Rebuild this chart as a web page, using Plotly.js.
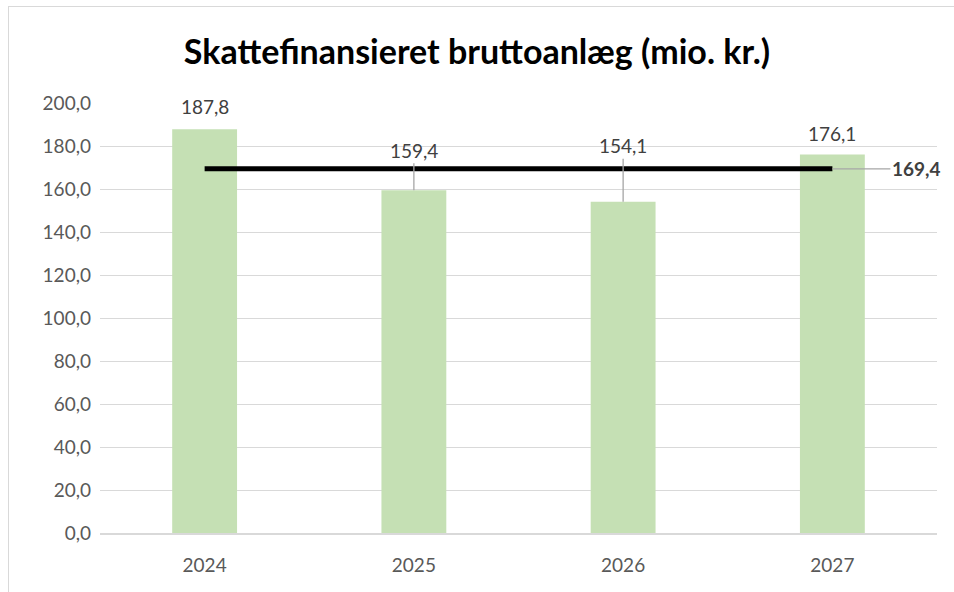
<!DOCTYPE html>
<html>
<head>
<meta charset="utf-8">
<script src="https://cdn.plot.ly/plotly-3.0.1.min.js"></script>
<style>
html,body{margin:0;padding:0;background:#fff;}
#wrap{position:absolute;left:8px;top:6px;width:960px;height:600px;border:1px solid #d9d9d9;box-sizing:border-box;}
#chart{position:absolute;left:0;top:0;width:954px;height:592px;}
</style>
</head>
<body>
<div id="wrap"></div>
<div id="chart"></div>
<script>
const years = ['2024', '2025', '2026', '2027'];
const values = [187.8, 159.4, 154.1, 176.1];
const averageValue = 169.4;
const yTicks = [0, 20, 40, 60, 80, 100, 120, 140, 160, 180, 200];

const fmt = v => v.toFixed(1).replace('.', ',');
const FONT = 'Lato, "Open Sans", sans-serif';

// label offsets (pixels) for the value labels, as placed in the source chart
const labelLift = [23, 40, 56, 21];
const leader = [false, true, true, false];

const bars = {
  type: 'bar', x: years, y: values,
  marker: {color: '#c5e0b4'}, width: 0.31, hoverinfo: 'skip'
};
const avgLine = {
  type: 'scatter', mode: 'lines',
  x: [years[0], years[years.length - 1]], y: [averageValue, averageValue],
  line: {color: '#000000', width: 5}, hoverinfo: 'skip'
};

// annotations on a category axis are positioned by category index
const annotations = years.map((yr, i) => {
  if (leader[i]) {
    return {x: i, y: values[i], text: fmt(values[i]), showarrow: true,
      arrowhead: 0, arrowwidth: 1.3, arrowcolor: '#a6a6a6', standoff: 0,
      ax: 0, ay: -labelLift[i], font: {family: FONT, size: 19, color: '#404040'}};
  }
  return {x: i, y: values[i], text: fmt(values[i]), showarrow: false,
    yshift: labelLift[i], font: {family: FONT, size: 19, color: '#404040'}};
});
annotations.push({x: years.length - 1, y: averageValue, text: '<b>' + fmt(averageValue) + '</b>',
  showarrow: true, arrowhead: 0, arrowwidth: 1.3, arrowcolor: '#a6a6a6', standoff: 0,
  ax: 84, ay: 0, font: {family: FONT, size: 19, color: '#404040'}});

const layout = {
  width: 954, height: 592,
  margin: {l: 100, r: 17, t: 103, b: 59},
  paper_bgcolor: 'rgba(0,0,0,0)', plot_bgcolor: 'rgba(0,0,0,0)',
  separators: ',.',
  showlegend: false,
  title: {text: '<b>Skattefinansieret bruttoanlæg (mio. kr.)</b>',
    font: {family: FONT, size: 34, color: '#000000'},
    x: 0.5, xanchor: 'center', y: 0.912, yanchor: 'middle'},
  xaxis: {type: 'category', categoryorder: 'array', categoryarray: years,
    range: [-0.5, years.length - 0.5], autorange: false,
    showgrid: false, zeroline: false, showline: true,
    linecolor: '#d9d9d9', linewidth: 1.5, ticks: '', ticklabelstandoff: 15,
    tickfont: {family: FONT, size: 19, color: '#595959'}},
  yaxis: {range: [0, 200], autorange: false, tickvals: yTicks, tickformat: '.1f',
    showgrid: true, gridcolor: '#d9d9d9', gridwidth: 1, zeroline: false,
    showline: false, ticks: '', ticklabelstandoff: 8,
    tickfont: {family: FONT, size: 19, color: '#595959'}},
  annotations: annotations
};

Plotly.newPlot('chart', [bars, avgLine], layout, {displayModeBar: false, staticPlot: true});
</script>
</body>
</html>
